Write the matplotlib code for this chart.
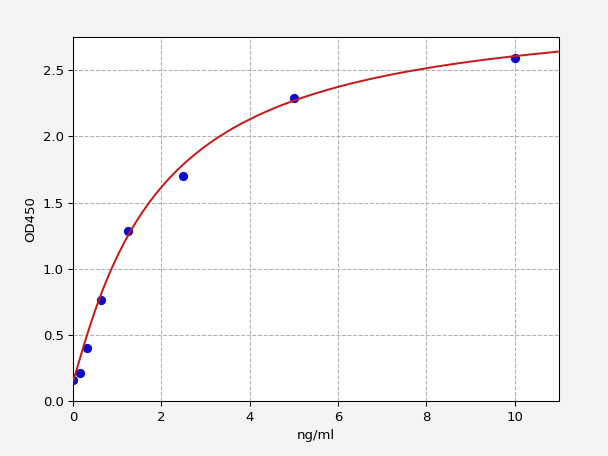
import numpy as np
import matplotlib
matplotlib.use("Agg")
import matplotlib.pyplot as plt

# standard concentrations (ng/ml) and measured OD450
conc = [0, 0.156, 0.3125, 0.625, 1.25, 2.5, 5, 10]
od450 = [0.163, 0.212, 0.40, 0.765, 1.284, 1.698, 2.292, 2.594]

# four parameter logistic fit
fit_bottom = 0.15
fit_slope = 1.1
fit_ec50 = 1.9
fit_top = 3.0


def four_pl(x):
    return fit_top + (fit_bottom - fit_top) / (1 + (x / fit_ec50) ** fit_slope)


fig = plt.figure(figsize=(6.4, 4.8), dpi=95, facecolor="#f4f4f4")
ax = fig.add_subplot(111)
fig.subplots_adjust(left=0.12, right=0.919, top=0.919, bottom=0.12)

xs = np.linspace(0, 11, 400)
ax.scatter(conc, od450, color="#0b0bd0", s=36, zorder=3)
ax.plot(xs, four_pl(xs), color="#c41a1a", linewidth=1.5, zorder=4)

ax.set_xlim(0, 11)
ax.set_ylim(0, 2.75)
ax.set_xlabel("ng/ml")
ax.set_ylabel("OD450")
ax.grid(True, linestyle="--", color="#b0b0b0", linewidth=0.8)
ax.set_axisbelow(True)

plt.savefig("out.png", dpi=95, facecolor=fig.get_facecolor())
